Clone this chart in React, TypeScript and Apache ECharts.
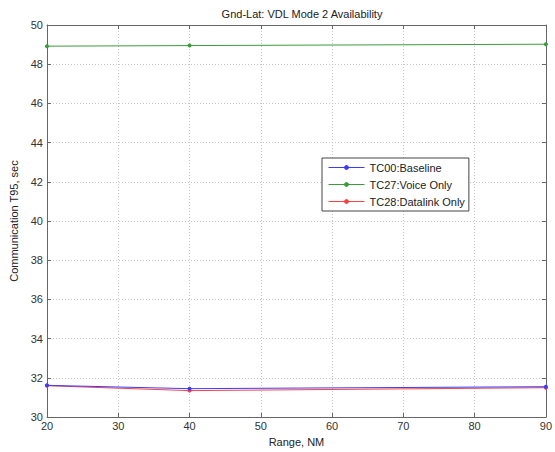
import React, { useEffect, useRef } from "react";
import * as echarts from "echarts";

const ranges = [20, 40, 90];
const baseline = [31.62, 31.45, 31.55];
const voiceOnly = [48.92, 48.95, 49.02];
const datalinkOnly = [31.6, 31.35, 31.5];
const seriesNames = ["TC00:Baseline", "TC27:Voice Only", "TC28:Datalink Only"];
const seriesColors = ["#3b3bff", "#3c9c3c", "#ff4040"];

const font = "Liberation Sans, Arial, sans-serif";

export default function App() {
  const ref = useRef<HTMLDivElement>(null);
  useEffect(() => {
    document.body.style.margin = "0";
    const chart = echarts.init(ref.current!, null, { renderer: "svg" });
    const values = [baseline, voiceOnly, datalinkOnly];
    const axisLine = { show: true, lineStyle: { color: "#666", width: 1 } };
    const splitLine = { show: true, lineStyle: { color: "#c8c8c8", type: [1, 2] as any, width: 1 } };
    chart.setOption({
      animation: false,
      backgroundColor: "#fff",
      textStyle: { fontFamily: font },
      title: {
        text: "Gnd-Lat: VDL Mode 2 Availability",
        left: 297,
        textAlign: "center",
        top: 3,
        textStyle: { fontSize: 11, fontWeight: "normal", color: "#222", fontFamily: font },
      },
      grid: { left: 45, right: 8, top: 25, bottom: 32, containLabel: false },
      legend: {
        orient: "vertical",
        left: 322,
        top: 158,
        width: 150,
        itemWidth: 36,
        itemHeight: 6,
        itemGap: 6,
        padding: [4, 4, 4, 6],
        backgroundColor: "#fff",
        borderColor: "#444",
        borderWidth: 1,
        borderRadius: 0,
        lineStyle: { width: 1 },
        textStyle: { fontSize: 11, color: "#222", fontFamily: font },
        data: seriesNames,
      },
      xAxis: [
        {
          type: "value",
          min: 20,
          max: 90,
          interval: 10,
          name: "Range, NM",
          nameLocation: "middle",
          nameGap: 16,
          nameTextStyle: { fontSize: 11, color: "#222", fontFamily: font },
          axisLine,
          axisTick: { show: true, inside: true, length: 4, lineStyle: { color: "#666" } },
          axisLabel: { fontSize: 11, color: "#333", margin: 3, fontFamily: font },
          splitLine,
        },
        {
          type: "value",
          position: "top",
          min: 20,
          max: 90,
          interval: 10,
          axisLine,
          axisTick: { show: true, inside: true, length: 4, lineStyle: { color: "#666" } },
          axisLabel: { show: false },
          splitLine: { show: false },
        },
      ],
      yAxis: [
        {
          type: "value",
          min: 30,
          max: 50,
          interval: 2,
          name: "Communication T95, sec",
          nameLocation: "middle",
          nameGap: 28,
          nameTextStyle: { fontSize: 11, color: "#222", fontFamily: font },
          axisLine,
          axisTick: { show: true, inside: true, length: 4, lineStyle: { color: "#666" } },
          axisLabel: { fontSize: 11, color: "#333", margin: 4, fontFamily: font },
          splitLine,
        },
        {
          type: "value",
          position: "right",
          min: 30,
          max: 50,
          interval: 2,
          axisLine,
          axisTick: { show: true, inside: true, length: 4, lineStyle: { color: "#666" } },
          axisLabel: { show: false },
          splitLine: { show: false },
        },
      ],
      series: seriesNames.map((name, i) => ({
        name,
        type: "line",
        xAxisIndex: 0,
        yAxisIndex: 0,
        data: ranges.map((r, j) => [r, values[i][j]]),
        symbol: "circle",
        symbolSize: 4,
        showSymbol: true,
        lineStyle: { width: 1, color: seriesColors[i] },
        itemStyle: { color: seriesColors[i] },
        z: i === 0 ? 3 : 2,
      })),
    });
    return () => chart.dispose();
  }, []);
  return <div ref={ref} style={{ width: 555, height: 452 }} />;
}
